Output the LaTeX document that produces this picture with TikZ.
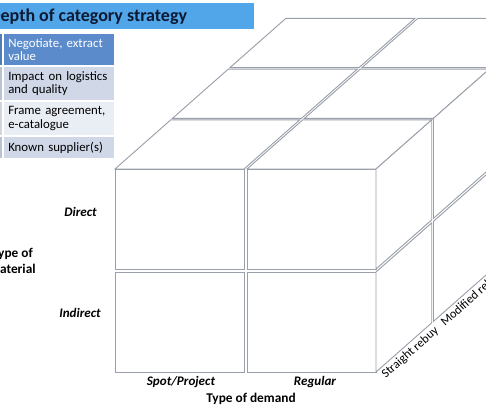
\documentclass[tikz,border=0pt]{standalone}
\usepackage{fontspec}
\setmainfont{Carlito}
\usepackage{tikz}
\usetikzlibrary{positioning}
\definecolor{titlebar}{HTML}{50A6E8}
\definecolor{titletext}{HTML}{0E1A33}
\definecolor{rowdark}{HTML}{5B8BCB}
\definecolor{rowmid}{HTML}{D0D8E8}
\definecolor{rowlight}{HTML}{E9EDF4}
\definecolor{edgegray}{HTML}{9AA0AA}

\begin{document}
\begin{tikzpicture}[x=0.75pt, y=-0.75pt, z={(43.125pt,38.025pt)},
    font=\fontsize{9.5}{11}\selectfont,
    cubeedge/.style={draw=edgegray, line width=0.7pt, fill=white},
    tabcell/.style={anchor=north west, inner xsep=3pt, inner ysep=0pt,
      text width=76pt, align=left, font=\fontsize{9.6}{10.2}\selectfont},
    rowlabel/.style={anchor=east, inner sep=0pt, font=\bfseries\itshape\fontsize{9.8}{11}\selectfont},
    axislabel/.style={inner sep=0pt, font=\bfseries\fontsize{10}{12}\selectfont},
    depthlabel/.style={inner sep=2pt, font=\fontsize{9.3}{11}\selectfont}]
  \useasboundingbox (0,0) rectangle (486,406);
  \clip (0,0) rectangle (486,406);

  % Title
  \fill[titlebar] (-5,3) rectangle (254,29);
  \node[anchor=base west, inner sep=0pt, text=titletext,
    font=\bfseries\fontsize{13.5}{16}\selectfont] (title) at (-11,22) {Depth of category strategy};

  % Table (left column cut off)
  \foreach \nm/\top/\h/\col/\tcol/\txt in {neg/34/31/rowdark/white/{Negotiate, extract\\value},
                                          imp/67/33/rowmid/black/{Impact on logistics\\and quality},
                                          frame/102/33/rowlight/black/{Frame agreement,\\e-catalogue},
                                          known/137/21/rowmid/black/{Known supplier(s)}} {
    \fill[\col!90!black] (-10,\top) rectangle (2,\top+\h);
    \node[tabcell, fill=\col, text=\tcol, minimum height=\h*0.75pt] (\nm) at (4,\top) {\txt};
  }

  % Cube of cells
  \begin{scope}[shift={(115,169)}]
    % front faces
    \foreach \i in {0,1}
      \foreach \j in {0,1}
        \draw[cubeedge] ({132*\i},{103*\j},0) rectangle ({132*\i+129},{103*\j+100},0);
    % top faces
    \foreach \i in {0,1}
      \foreach \k in {0,1,2}
        \draw[cubeedge] ({132*\i},0,\k) -- ++(129,0,0) -- ++(0,0,0.97) -- ++(-129,0,0) -- cycle;
    % right faces
    \foreach \j in {0,1}
      \foreach \k in {0,1,2}
        \draw[cubeedge] (261,{103*\j},\k) -- ++(0,0,0.97) -- ++(0,100,0) -- ++(0,0,-0.97) -- cycle;

    % depth axis labels
    \path (261,203,0) -- (261,203,0.97)
      node[pos=0, sloped, anchor=north west, depthlabel] (straight) {Straight rebuy};
    \path (261,203,1) -- (261,203,1.97)
      node[pos=0.03, sloped, anchor=north west, depthlabel] (modified) {Modified rebuy};
  \end{scope}

  % Axis labels
  \node[rowlabel] (direct) at (97,212) {Direct};
  \node[rowlabel] (indirect) at (101,313) {Indirect};
  \node[axislabel, anchor=west, align=center] (material) at (-11,261) {Type of\\material};
  \node[rowlabel, anchor=center] (spot) at (181,382) {Spot/Project};
  \node[rowlabel, anchor=center] (regular) at (315,382) {Regular};
  \node[axislabel] (demand) at (251,399) {Type of demand};
\end{tikzpicture}
\end{document}
